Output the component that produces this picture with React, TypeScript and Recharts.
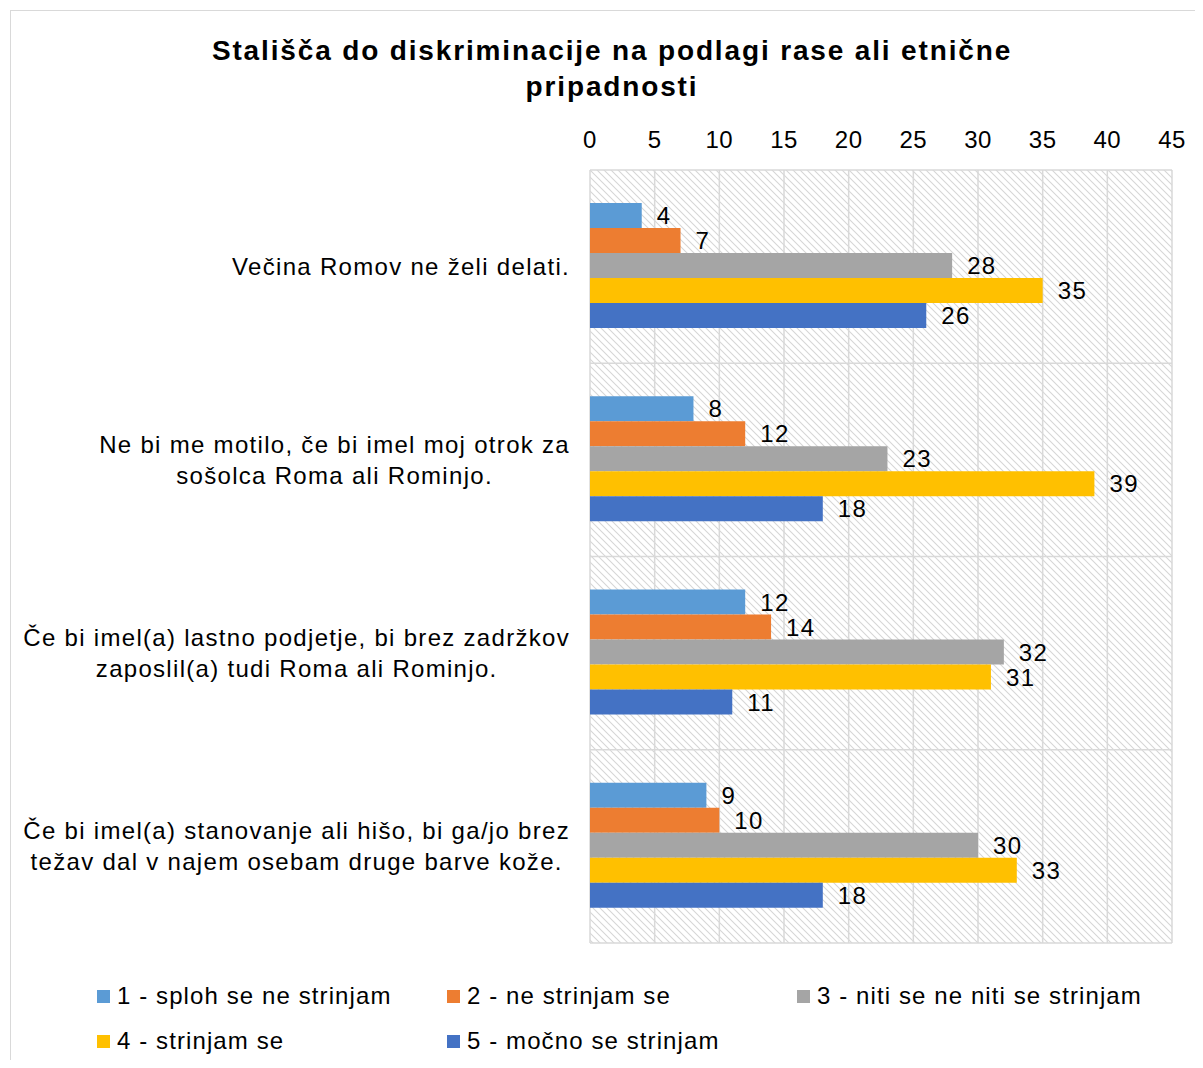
import React from "react"
import { BarChart, Bar, XAxis, YAxis, CartesianGrid, LabelList } from "recharts"

const categories = [
  "Večina Romov ne želi delati.",
  "Ne bi me motilo, če bi imel moj otrok za\nsošolca Roma ali Rominjo.",
  "Če bi imel(a) lastno podjetje, bi brez zadržkov\nzaposlil(a) tudi Roma ali Rominjo.",
  "Če bi imel(a) stanovanje ali hišo, bi ga/jo brez\ntežav dal v najem osebam druge barve kože.",
]

const seriesNames = [
  "1 - sploh se ne strinjam",
  "2 - ne strinjam se",
  "3 - niti se ne niti se strinjam",
  "4 - strinjam se",
  "5 - močno se strinjam",
]

const s1 = [4, 8, 12, 9]
const s2 = [7, 12, 14, 10]
const s3 = [28, 23, 32, 30]
const s4 = [35, 39, 31, 33]
const s5 = [26, 18, 11, 18]

const xTicks = [0, 5, 10, 15, 20, 25, 30, 35, 40, 45]

const colors = ["#5B9BD5", "#ED7D31", "#A5A5A5", "#FFC000", "#4472C4"]
const keys = ["s1", "s2", "s3", "s4", "s5"]

const data = categories.map((cat, i) => ({
  cat,
  s1: s1[i],
  s2: s2[i],
  s3: s3[i],
  s4: s4[i],
  s5: s5[i],
}))

const FONT = "'Liberation Sans', Arial, sans-serif"

// multi-line labels: block sits right against the axis, lines centred inside it
function CategoryTick(props: any) {
  const { x, y, payload } = props
  const w = 570
  return (
    <foreignObject x={x - 12 - w} y={y - 45} width={w} height={90}>
      <div
        style={{
          display: "flex",
          height: "100%",
          alignItems: "center",
          justifyContent: "flex-end",
        }}
      >
        <div
          style={{
            textAlign: "center",
            whiteSpace: "pre",
            fontFamily: FONT,
            fontSize: 24,
            lineHeight: "31px",
            letterSpacing: 1.3,
            color: "#000",
          }}
        >
          {payload.value}
        </div>
      </div>
    </foreignObject>
  )
}

// category band boundaries (between the rows)
const bandLines = ({ offset }: any) =>
  categories.concat([""]).map((_, i) => offset.top + (i * offset.height) / categories.length)

export default function App() {
  return (
    <div
      style={{
        position: "relative",
        width: 1203,
        height: 1068,
        margin: -8,
        overflow: "hidden",
        background: "#fff",
        fontFamily: FONT,
      }}
    >
      <svg width={0} height={0} style={{ position: "absolute" }}>
        <defs>
          <pattern id="hatch" patternUnits="userSpaceOnUse" width={7} height={7}>
            <path d="M0,0 L7,7 M-2,5 L2,9 M5,-2 L9,2" stroke="#d6d6d6" strokeWidth={1.1} />
          </pattern>
        </defs>
      </svg>
      <div
        style={{ position: "absolute", left: 0, top: -15, fontSize: 24, lineHeight: "24px", color: "#000" }}
      >
        Graf št. 5
      </div>
      <div
        style={{
          position: "absolute",
          left: 10,
          top: 10,
          width: 1220,
          height: 1100,
          border: "1px solid #d9d9d9",
          boxSizing: "border-box",
        }}
      />
      <div
        style={{
          position: "absolute",
          left: 112,
          top: 33,
          width: 1000,
          textAlign: "center",
          fontSize: 28,
          fontWeight: "bold",
          lineHeight: "36px",
          letterSpacing: 1.85,
          color: "#000",
        }}
      >
        Stališča do diskriminacije na podlagi rase ali etnične
        <br />
        pripadnosti
      </div>
      <div style={{ position: "absolute", left: 0, top: 0 }}>
        <BarChart
          width={1203}
          height={1068}
          data={data}
          layout="vertical"
          margin={{ top: 130, right: 31, bottom: 125, left: 10 }}
          barGap={0}
          barCategoryGap={33}
        >
          <CartesianGrid
            stroke="#d9d9d9"
            strokeWidth={1.5}
            fill="url(#hatch)"
            fillOpacity={1}
            horizontalCoordinatesGenerator={bandLines}
          />
          <XAxis
            type="number"
            orientation="top"
            domain={[0, 45]}
            ticks={xTicks}
            interval={0}
            axisLine={false}
            tickLine={false}
            tickMargin={16}
            height={40}
            tick={{ fontSize: 24, fill: "#000", fontFamily: FONT, letterSpacing: 0.5 }}
          />
          <YAxis
            type="category"
            dataKey="cat"
            width={580}
            axisLine={false}
            tickLine={false}
            interval={0}
            tick={<CategoryTick />}
          />
          {keys.map((k, i) => (
            <Bar key={k} dataKey={k} name={seriesNames[i]} fill={colors[i]} isAnimationActive={false}>
              <LabelList
                dataKey={k}
                position="right"
                offset={15}
                fill="#000"
                fontSize={24}
                fontFamily={FONT}
                letterSpacing={1.4}
              />
            </Bar>
          ))}
        </BarChart>
      </div>
      {seriesNames.map((name, i) => (
        <div
          key={name}
          style={{
            position: "absolute",
            left: 97 + (i % 3) * 350,
            top: 996 + Math.floor(i / 3) * 45 - 15,
            height: 30,
            display: "flex",
            alignItems: "center",
            fontSize: 24,
            letterSpacing: 1.1,
            color: "#000",
            whiteSpace: "nowrap",
          }}
        >
          <span style={{ width: 13, height: 13, background: colors[i], marginRight: 7, display: "inline-block" }} />
          {name}
        </div>
      ))}
    </div>
  )
}
